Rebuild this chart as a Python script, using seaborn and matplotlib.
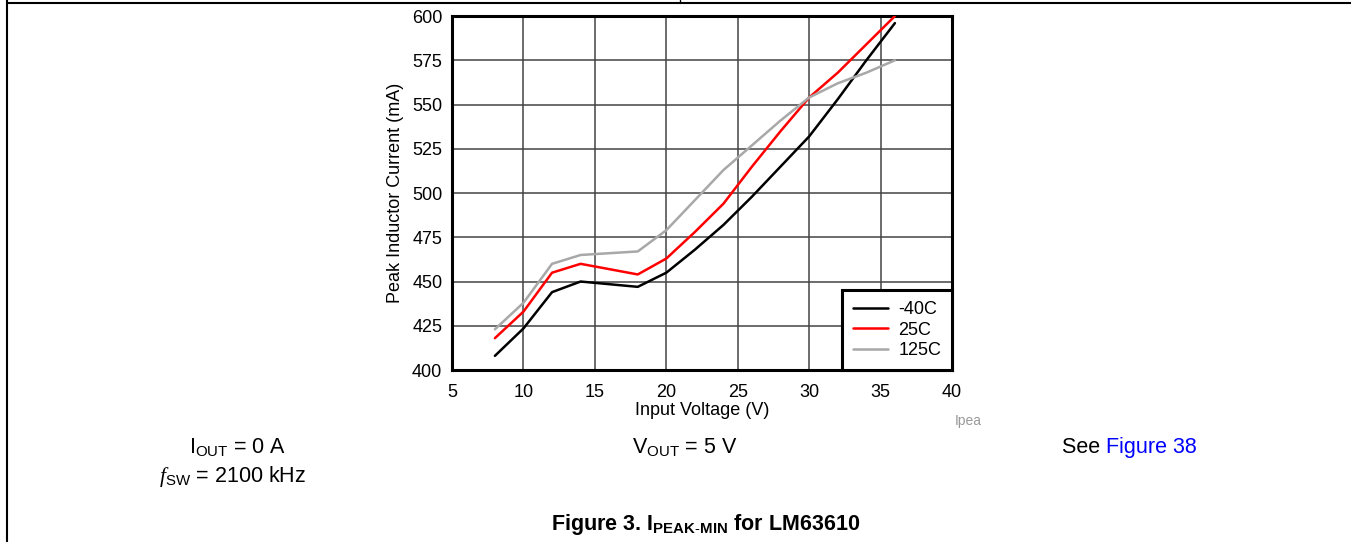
import pandas as pd
import seaborn as sns
import matplotlib.pyplot as plt
from matplotlib.lines import Line2D

# Values
vin = [8, 10, 12, 14, 18, 20, 22, 24, 26, 28, 30, 32, 34, 36]
i_m40 = [408, 423.5, 444, 450, 447, 455, 468, 482, 498, 515, 532, 553, 575, 596]
i_25 = [418, 433, 455, 460, 454, 463, 478, 494, 515, 535, 554, 568, 584, 600]
i_125 = [423, 438, 460, 465, 467, 479, 496, 513, 527, 541, 554, 562, 568, 575]
temps = ['-40C', '25C', '125C']
colors = {'-40C': 'black', '25C': '#ff0000', '125C': '#a8a8a8'}

df = pd.DataFrame({
    'vin': vin * 3,
    'current': i_m40 + i_25 + i_125,
    'temp': [t for t in temps for _ in vin],
})

sns.set_style('white')
plt.rcParams['font.family'] = ['Liberation Sans', 'DejaVu Sans']
plt.rcParams['mathtext.fontset'] = 'custom'
plt.rcParams['mathtext.rm'] = 'Liberation Sans'
plt.rcParams['mathtext.bf'] = 'Liberation Sans:bold'
plt.rcParams['mathtext.it'] = 'Liberation Serif:italic'
for k in ['text.color', 'axes.labelcolor', 'xtick.color', 'ytick.color']:
    plt.rcParams[k] = 'black'

fig = plt.figure(figsize=(13.51, 5.42), dpi=100)
ax = fig.add_axes([0.3346, 0.3173, 0.3701, 0.6531])

sns.lineplot(data=df, x='vin', y='current', hue='temp', hue_order=temps,
             palette=colors, estimator=None, sort=False, linewidth=1.8,
             legend=False, ax=ax, zorder=3)

ax.set_xlim(5, 40)
ax.set_ylim(400, 600)
ax.set_xticks(range(5, 41, 5))
ax.set_yticks(range(400, 601, 25))
ax.grid(True, color='#444444', linewidth=1.1)
ax.set_axisbelow(True)
for s in ax.spines.values():
    s.set_color('black')
    s.set_linewidth(2.2)
    s.set_visible(True)
ax.tick_params(length=0, labelsize=13)
ax.tick_params(axis='x', pad=10)
ax.tick_params(axis='y', pad=7)
ax.set_xlabel('Input Voltage (V)', fontsize=13, labelpad=1)
ax.set_ylabel('Peak Inductor Current (mA)', fontsize=13, labelpad=6)

handles = [Line2D([], [], color=colors[t], linewidth=1.8) for t in temps]
leg = ax.legend(handles, temps, loc='lower right', borderaxespad=0,
                fancybox=False, fontsize=13, handlelength=1.9,
                handletextpad=0.6, labelspacing=0.2, borderpad=0.6)
leg.get_frame().set_edgecolor('black')
leg.get_frame().set_linewidth(2.2)
leg.get_frame().set_alpha(1)

# page text
fs = 15.5
fig.text(0.7067, 0.223, 'Ipea', fontsize=10, color='#999999', ha='left', va='center')
fig.text(0.140, 0.175, r'I$_{\mathrm{OUT}}$ = 0 A', fontsize=fs, ha='left', va='center')
fig.text(0.118, 0.120, r'$\it{f}$$_{\mathrm{SW}}$ = 2100 kHz', fontsize=fs, ha='left', va='center')
fig.text(0.4675, 0.175, r'V$_{\mathrm{OUT}}$ = 5 V', fontsize=fs, ha='left', va='center')
t1 = fig.text(0.786, 0.175, 'See ', fontsize=fs, ha='left', va='center')
fig.canvas.draw()
bb = t1.get_window_extent()
fig.text(bb.x1 / fig.bbox.width, 0.175, 'Figure 38', fontsize=fs,
         color='#0000ff', ha='left', va='center')
fig.text(0.5225, 0.032, r'Figure 3. I$_{\mathbf{PEAK}\text{-}\mathbf{MIN}}$ for LM63610',
         fontsize=15.5, fontweight='bold', ha='center', va='center')

# page border lines
fig.add_artist(Line2D([7 / 1351, 1], [1 - 3 / 542, 1 - 3 / 542], color='black', linewidth=1.5))
fig.add_artist(Line2D([7 / 1351, 7 / 1351], [0, 1], color='black', linewidth=1.5))
fig.add_artist(Line2D([680 / 1351, 680 / 1351], [1 - 3 / 542, 1], color='black', linewidth=1))

fig.savefig('out.png', dpi=100)
